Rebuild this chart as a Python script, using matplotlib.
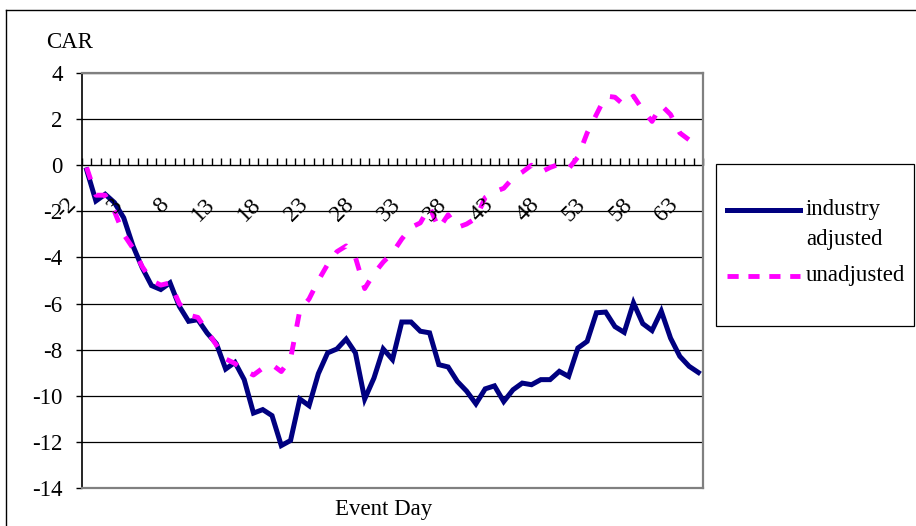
import matplotlib
matplotlib.use("Agg")
import matplotlib.pyplot as plt
from matplotlib.lines import Line2D
from matplotlib.patches import Rectangle

# ---------------------------------------------------------------------------
# Data
# ---------------------------------------------------------------------------
event_day = list(range(-2, 65))
tick_days = event_day[::5]

industry_adjusted = [
    -0.2, -1.55, -1.26, -1.62, -2.28, -3.5, -4.45, -5.22, -5.39, -5.1,
    -6.12, -6.77, -6.7, -7.28, -7.74, -8.84, -8.55, -9.3, -10.75, -10.6,
    -10.86, -12.16, -11.94, -10.14, -10.43, -9.04, -8.14, -7.97, -7.54, -8.14,
    -10.14, -9.23, -7.97, -8.43, -6.8, -6.8, -7.2, -7.27, -8.65, -8.75,
    -9.38, -9.8, -10.35, -9.7, -9.57, -10.25, -9.74, -9.45, -9.52, -9.3,
    -9.3, -8.94, -9.16, -7.93, -7.64, -6.4, -6.37, -7.0, -7.25, -5.97,
    -6.87, -7.17, -6.33, -7.5, -8.29, -8.72, -8.99,
]

unadjusted = [
    -0.1, -1.3, -1.3, -2.0, -3.0, -3.6, -4.4, -5.0, -5.2, -5.1,
    -6.0, -6.5, -6.6, -7.2, -7.8, -8.4, -8.6, -8.9, -9.1, -8.8,
    -8.65, -8.95, -8.4, -6.3, -5.8, -5.0, -4.3, -3.75, -3.5, -4.0,
    -5.35, -4.7, -4.2, -3.8, -3.2, -2.7, -2.5, -1.8, -2.75, -2.15,
    -2.7, -2.55, -2.3, -1.4, -1.15, -1.0, -0.55, -0.3, 0.0, -0.3,
    -0.1, 0.05, -0.15, 0.35, 1.4, 2.2, 3.0, 2.95, 2.6, 3.0,
    2.4, 1.9, 2.6, 2.2, 1.4, 1.1, 0.9,
]

y_ticks = list(range(-14, 5, 2))

NAVY = "#000080"
MAGENTA = "#FF00FF"
W, H = 916, 526


def fx(px):
    return px / W


def fy(py):
    return 1 - py / H


plt.rcParams["font.family"] = ["Liberation Serif", "DejaVu Serif"]
plt.rcParams["font.size"] = 16.5
plt.rcParams["axes.unicode_minus"] = False

fig = plt.figure(figsize=(W / 100, H / 100), dpi=100, facecolor="white")
ax = fig.add_axes([fx(82), fy(488), fx(703) - fx(82), fy(73) - fy(488)])

# series
ax.plot(event_day, industry_adjusted, color=NAVY, lw=3.6, zorder=4,
        solid_joinstyle="miter")
ax.plot(event_day, unadjusted, color=MAGENTA, lw=3.5, zorder=5,
        dashes=(2.6, 3.2), dash_capstyle="butt")

ax.set_xlim(event_day[0] - 0.5, event_day[-1] + 0.5)
ax.set_ylim(-14, 4)
ax.set_yticks(y_ticks)
ax.set_yticklabels([str(v) for v in y_ticks])
ax.set_xticks([])
ax.yaxis.grid(True, color="black", lw=0.9)
ax.set_axisbelow(True)
ax.tick_params(axis="y", direction="out", length=4, width=1, pad=10,
               colors="black")

for side in ("top", "right", "bottom"):
    ax.spines[side].set_color("#808080")
    ax.spines[side].set_linewidth(1.6)
ax.spines["left"].set_color("black")
ax.spines["left"].set_linewidth(1.2)

# category axis crossing at zero, tick marks between categories
sec = ax.secondary_xaxis(0, transform=ax.transData)
sec.set_xticks([d - 0.5 for d in event_day] + [event_day[-1] + 0.5])
sec.tick_params(direction="in", length=5, width=1, labelbottom=False,
                labeltop=False)
sec.spines["bottom"].set_color("black")
sec.spines["top"].set_color("black")

for d in tick_days:
    ax.annotate(str(d), xy=(d, 0), xytext=(-10, -26), textcoords="offset points",
                rotation=45, rotation_mode="anchor", ha="right", va="center",
                fontsize=17, zorder=6)

fig.text(fx(70), fy(43), "CAR", ha="center", va="center")
fig.text(fx(384), fy(510), "Event Day", ha="center", va="center")

# legend box
fig.patches.append(Rectangle((fx(716), fy(326)), fx(914) - fx(716), fy(164) - fy(326),
                             transform=fig.transFigure, facecolor="white",
                             edgecolor="black", lw=0.9))
fig.lines.append(Line2D([fx(727), fx(800)], [fy(210), fy(210)], color=NAVY, lw=3.6,
                        transform=fig.transFigure))
fig.lines.append(Line2D([fx(727), fx(800)], [fy(276), fy(276)], color=MAGENTA, lw=3.5,
                        dashes=(2.3, 2.0), dash_capstyle="butt",
                        transform=fig.transFigure))
fig.text(fx(806), fy(210), "industry", ha="left", va="center")
fig.text(fx(806), fy(240), "adjusted", ha="left", va="center")
fig.text(fx(806), fy(276), "unadjusted", ha="left", va="center")

# outer chart border
fig.lines.append(Line2D([fx(6), fx(930)], [fy(10), fy(10)], color="black", lw=1,
                        transform=fig.transFigure))
fig.lines.append(Line2D([fx(6), fx(6)], [fy(10), fy(540)], color="black", lw=1,
                        transform=fig.transFigure))

fig.savefig("out.png", dpi=100, facecolor="white")
